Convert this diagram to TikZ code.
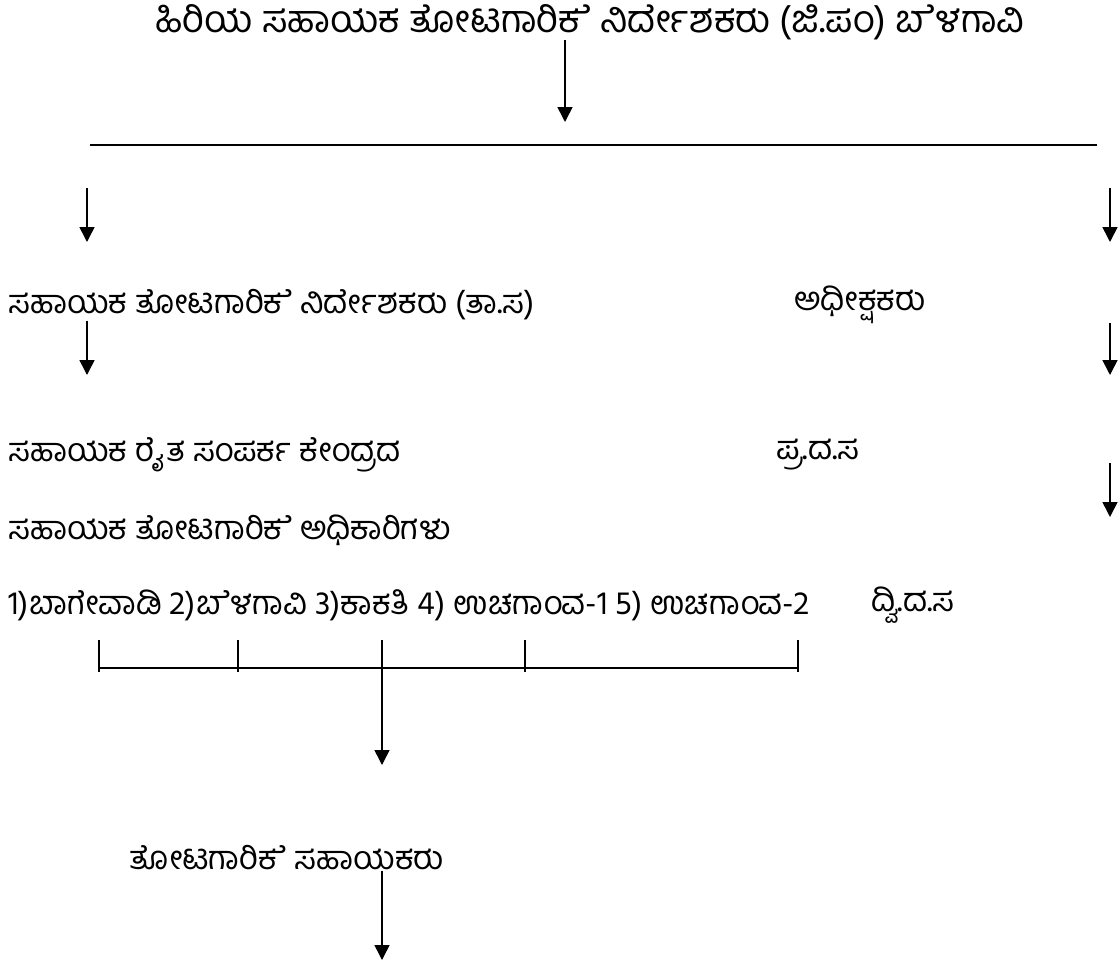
\documentclass[tikz,border=0pt]{standalone}
\usepackage{fontspec}
\newfontfamily\kanfont[Script=Kannada]{Hind Mysuru}
\usetikzlibrary{arrows.meta}
\tikzset{
    lbl/.style={font=\kanfont\fontsize{16.4}{20}\selectfont, inner sep=0pt},
    headlbl/.style={font=\kanfont\fontsize{19}{22}\selectfont, inner sep=0pt},
    arr/.style={-{Triangle[length=7.5pt,width=7.5pt]}, line width=0.8pt},
    rule/.style={line width=0.8pt}
}
\begin{document}
\begin{tikzpicture}[x=0.5pt,y=-0.5pt]
        \useasboundingbox (0,0) rectangle (1120,964);

        % Head office
        \node[headlbl] (head) at (590,22) {ಹಿರಿಯ ಸಹಾಯಕ ತೋಟಗಾರಿಕ^^^^200dೆ ನಿರ್ದೇಶಕರು (ಜಿ.ಪಂ) ಬ^^^^200dೆಳಗಾವಿ};
        \coordinate (headtip) at (565,122);
        \draw[arr] (head.south -| headtip) -- (headtip);

        % Branch line
        \coordinate (bl) at (90,145);
        \coordinate (br) at (1097,145);
        \draw[rule] (bl) -- (br);

        % Left branch
        \node[lbl, anchor=west] (adh) at (8,305) {ಸಹಾಯಕ ತೋಟಗಾರಿಕ^^^^200dೆ ನಿರ್ದೇಶಕರು (ತಾ.ಸ)};
        \node[lbl, anchor=west] (rsk) at (8,455) {ಸಹಾಯಕ ರೈತ ಸಂಪರ್ಕ ಕೇಂದ್ರದ};
        \node[lbl, anchor=west] (aho) at (8,530) {ಸಹಾಯಕ ತೋಟಗಾರಿಕ^^^^200dೆ ಅಧಿಕಾರಿಗಳು};
        \node[lbl, anchor=west] (places) at (8,605) {1)ಬಾಗೇವಾಡಿ 2)ಬ^^^^200dೆಳಗಾವಿ 3)ಕಾಕತಿ 4) ಉಚಗಾಂವ-1 5) ಉಚಗಾಂವ-2};
        \draw[arr] (87,188) -- (87,242);
        \draw[arr] (adh.south -| 87,0) -- (87,375);

        % Right branch
        \node[lbl] (supt) at (860,305) {ಅಧೀಕ್ಷಕರು};
        \node[lbl] (fda) at (818,455) {ಪ್ರ.ದ.ಸ};
        \node[lbl] (sda) at (913,605) {ದ್ವಿ.ದ.ಸ};
        \draw[arr] (1110,188) -- (1110,242);
        \draw[arr] (1110,323) -- (1110,375);
        \draw[arr] (1110,463) -- (1110,517);

        % Places bracket
        \draw[rule] (99,668) coordinate (pl) -- (798,668) coordinate (pr);
        \foreach \x in {99,238,382,525,798}
            \draw[rule] (\x,640) -- (\x,672);
        \coordinate (join) at (382,668);
        \node[lbl] (asst) at (287,858) {ತೋಟಗಾರಿಕ^^^^200dೆ ಸಹಾಯಕರು};
        \draw[arr] (join) -- (382,765);
        \draw[arr] (asst.south -| join) -- (382,960);

\end{tikzpicture}
\end{document}
